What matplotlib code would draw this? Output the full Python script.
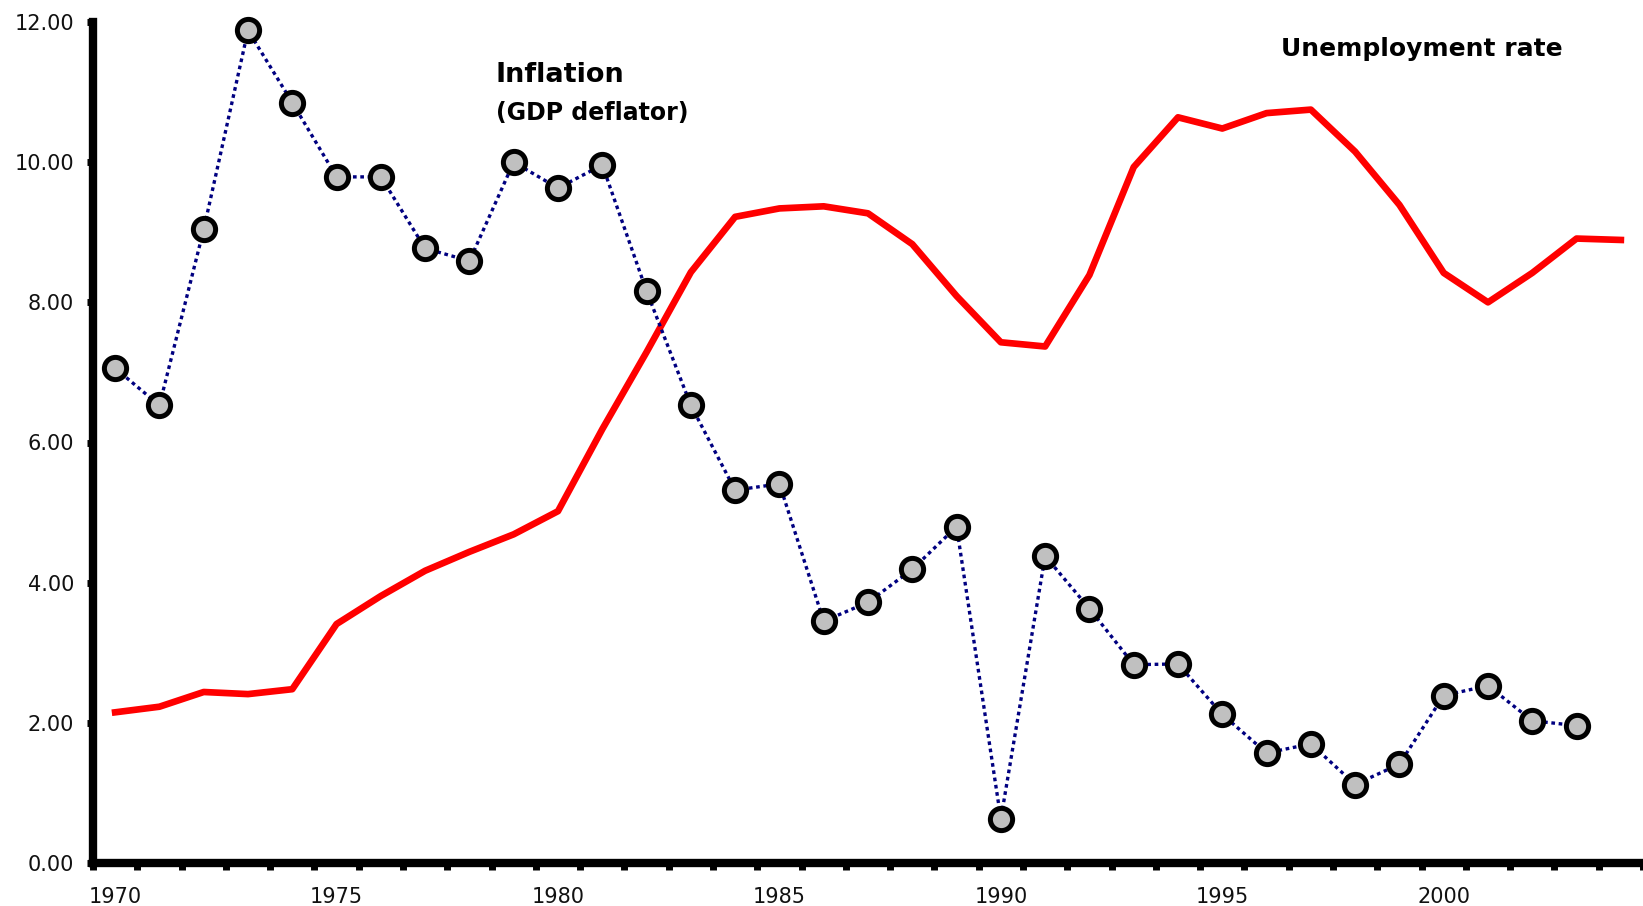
import matplotlib
matplotlib.use("Agg")
import matplotlib.pyplot as plt
from matplotlib.ticker import FixedLocator, FormatStrFormatter

# Annual data, 1970-2004
years = list(range(1970, 2005))

inflation_years = list(range(1970, 2004))
inflation = [7.06, 6.53, 9.04, 11.88, 10.85, 9.79, 9.79, 8.77, 8.59, 10.00,
             9.63, 9.96, 8.16, 6.53, 5.32, 5.41, 3.45, 3.72, 4.19, 4.80,
             0.63, 4.38, 3.63, 2.83, 2.84, 2.12, 1.57, 1.70, 1.12, 1.41,
             2.39, 2.53, 2.03, 1.96]

unemployment = [2.15, 2.23, 2.44, 2.41, 2.48, 3.41, 3.81, 4.17, 4.44, 4.69,
                5.02, 6.19, 7.29, 8.43, 9.22, 9.34, 9.37, 9.27, 8.83, 8.09,
                7.43, 7.37, 8.39, 9.93, 10.64, 10.48, 10.70, 10.75, 10.15, 9.39,
                8.42, 8.00, 8.42, 8.91, 8.89]

y_ticks = [0, 2, 4, 6, 8, 10, 12]
year_labels = [1970, 1975, 1980, 1985, 1990, 1995, 2000]

W, H = 1643, 906
fig = plt.figure(figsize=(W / 100, H / 100), dpi=100)
left, right, bottom, top = 93, 1643, 863, 22
ax = fig.add_axes([left / W, (H - bottom) / H, (right - left) / W, (bottom - top) / H])

ax.plot(years, unemployment, color="#ff0000", lw=4.8, solid_joinstyle="round",
        zorder=2, clip_on=False)
ax.plot(inflation_years, inflation, color="#000080", lw=2.4, ls=(0, (1.1, 1.1)),
        marker="o", ms=16, mfc="#c0c0c0", mec="black", mew=3.6, zorder=3,
        clip_on=False)

ax.set_xlim(years[0] - 0.5, years[-1] + 0.5)
ax.set_ylim(0, 12)

# category boundaries carry tick marks, labels sit at category centres
ax.xaxis.set_major_locator(FixedLocator([y - 0.5 for y in years] + [years[-1] + 0.5]))
ax.xaxis.set_major_formatter(plt.NullFormatter())
ax.xaxis.set_minor_locator(FixedLocator(year_labels))
ax.xaxis.set_minor_formatter(plt.FuncFormatter(lambda v, p: f"{int(round(v))}"))
ax.tick_params(axis="x", which="major", direction="out", length=5, width=5, color="black")
ax.tick_params(axis="x", which="minor", length=0, pad=17, labelsize=15, labelcolor="#111111")

ax.yaxis.set_major_locator(FixedLocator(y_ticks))
ax.yaxis.set_major_formatter(FormatStrFormatter("%.2f"))
ax.tick_params(axis="y", direction="out", length=4.5, width=5, pad=9,
               labelsize=15, labelcolor="#111111")

for s in ("top", "right"):
    ax.spines[s].set_visible(False)
for s in ("left", "bottom"):
    ax.spines[s].set_linewidth(6)
    ax.spines[s].set_color("black")

def px(x, y):
    return ax.transData.inverted().transform(
        fig.transFigure.transform((x / W, (H - y) / H)))

tx, ty = px(496, 75)
ax.text(tx, ty, "Inflation", fontsize=19.5, fontweight="bold", ha="left", va="center")
tx, ty = px(496, 113)
ax.text(tx, ty, "(GDP deflator)", fontsize=17, fontweight="bold", ha="left", va="center")
tx, ty = px(1281, 49)
ax.text(tx, ty, "Unemployment rate", fontsize=18, fontweight="bold", ha="left", va="center")

fig.savefig("out.png", dpi=100, facecolor="white")
